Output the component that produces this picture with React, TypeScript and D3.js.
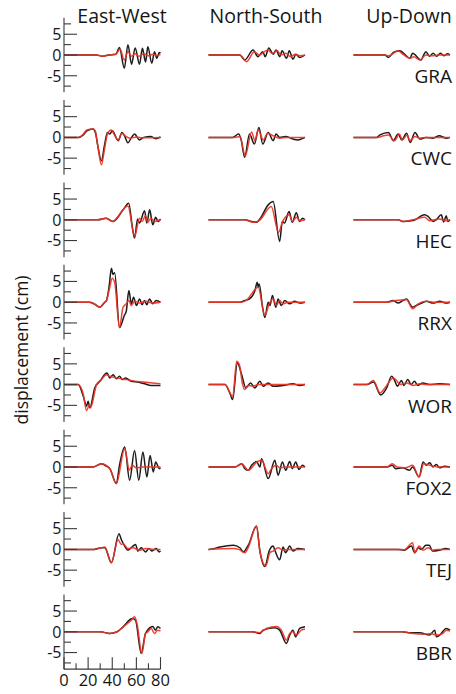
import React from "react";
import * as d3 from "d3";

type Pt = [number, number];

const stations = ["GRA", "CWC", "HEC", "RRX", "WOR", "FOX2", "TEJ", "BBR"];
const components = ["East-West", "North-South", "Up-Down"];
const yTickValues = [-7.5, -5, -2.5, 0, 2.5, 5, 7.5];
const yTickLabels = ["-5", "0", "5"];
const xTickValues = [0, 10, 20, 30, 40, 50, 60, 70, 80];
const xTickLabels = [0, 20, 40, 60, 80];

// observed (black) and synthetic (red) displacement, [time s, cm]
const graEWObs: Pt[] = [[0,0],[27,0],[32,-0.3],[37,0],[43,0.2],[46,1.8],[50,-3.2],[53,2.5],[56,-2.2],[59,1.7],[62.6,-2.2],[65,1.6],[67.6,-1.7],[69.5,2.0],[72.8,-2.0],[75,0.8],[77,-0.8],[79,0.6],[80,0.4]];
const graEWSyn: Pt[] = [[0,0],[27,0],[32,-0.3],[37,0],[43,0.2],[46.5,1.4],[50,-1.2],[53,0.8],[56,-0.3],[59,0.3],[62,-0.3],[66,0.3],[70,-0.2],[74,0.2],[77,-0.1],[80,0.1]];
const graNSObs: Pt[] = [[0,0],[26,0],[30,-1.2],[37,1.2],[41,-0.4],[45,0.8],[47,-0.4],[50,1.7],[53.6,0.2],[56,1.2],[59,-0.4],[61,1.0],[64.6,-0.8],[67,1.0],[70,-1.0],[72.5,0.2],[75.5,-0.6],[80,0]];
const graNSSyn: Pt[] = [[0,0],[26,0],[31.6,-1.6],[38,0.8],[42,0],[49,1.2],[53,0.4],[57,1.0],[60,0],[64,0.4],[68,-0.4],[72,0.2],[76,-0.2],[80,0]];
const graUDObs: Pt[] = [[0,0],[26,0],[29,-0.6],[33,0.6],[38.5,1.0],[42,0.3],[46.7,-0.8],[49,0.4],[56,-1.2],[58.5,0.2],[60,0.8],[63,-0.3],[66,0.4],[69,-0.3],[72,0.4],[75,-0.2],[78,0.3],[80,0]];
const graUDSyn: Pt[] = [[0,0],[26,0],[29,-0.2],[37,1.0],[40,0.4],[47,-0.8],[50,-0.4],[55,-1.2],[60,0],[65,-0.2],[70,0],[80,0]];

const cwcEWObs: Pt[] = [[0,0],[12,0],[16,0.6],[19,1.6],[24,2.0],[26,1.2],[28,-2],[31,-5.6],[33.5,-2],[36,1.2],[38,0.8],[40,1.6],[45,-0.8],[48,1.2],[50,0.5],[53,-1.3],[56,0],[58.5,0.8],[62.5,-0.6],[66,0],[72,0.2],[76,-0.3],[80,0.1]];
const cwcEWSyn: Pt[] = [[0,0],[12,0],[16,0.8],[19,1.8],[24,2.0],[26,1.5],[28,-2],[31,-6.6],[33.5,-3],[36,0.8],[39,1.8],[42,0.5],[45,-0.6],[48,1.0],[51,0.3],[55,-0.2],[60,0.1],[65,-0.1],[80,0]];
const cwcNSObs: Pt[] = [[0,0],[20,0],[25,0.8],[27,-0.5],[30,-4.8],[34,0.8],[38,-1.6],[41.8,2.4],[45,-1.6],[49.5,1.2],[53.6,-0.8],[56,0.8],[59,0],[64,0.2],[70,-0.4],[74,-0.6],[80,0]];
const cwcNSSyn: Pt[] = [[0,0],[22,0],[26,0.2],[30.5,-4.4],[35.7,1.3],[38.5,-0.8],[41.2,1.8],[45.5,-0.6],[49,1.0],[53.6,0.4],[59,-0.2],[65,0],[80,0]];
const cwcUDObs: Pt[] = [[0,0],[19,0],[22,0.6],[29,1.2],[33,-0.8],[37,0.8],[40,-0.6],[44,1.0],[47,-1.2],[51,1.2],[55,-0.4],[60,0],[66,-0.2],[71,0.4],[77,-0.2],[80,0]];
const cwcUDSyn: Pt[] = [[0,0],[20,0],[25,0.4],[29,0.6],[34,-0.8],[38,0.8],[40.5,-0.6],[44.5,0.6],[46.5,-0.8],[51,0.2],[55,-0.2],[60,0],[80,0]];

const hecEWObs: Pt[] = [[0,0],[28,0],[35,0.4],[40.7,-0.4],[49,2.4],[53.6,4.0],[57,-2.4],[58.5,-4.4],[61,0.2],[62.6,-0.8],[66.8,2.2],[68.7,-0.8],[71,2.4],[73.6,-1.2],[76,0.6],[78,-0.4],[80,0.2]];
const hecEWSyn: Pt[] = [[0,0],[28,0],[35,0.4],[40,-0.4],[53,3.3],[58.5,-4.0],[62.6,0.4],[64.8,-0.4],[67.5,1.0],[69.5,-0.6],[72,0.4],[75,-0.4],[80,0]];
const hecNSObs: Pt[] = [[0,0],[30,0],[35.7,-0.4],[39.8,-0.6],[42.6,0.2],[49.5,3.6],[53.6,4.4],[59,-5.2],[61.2,-0.4],[63,-0.8],[66.8,2.0],[69.5,-0.6],[72.8,1.7],[75.5,-0.4],[78,0.4],[80,0]];
const hecNSSyn: Pt[] = [[0,0],[30,0],[37,-0.6],[42,-0.2],[52,3.2],[58,-3.0],[61.5,-0.4],[67,1.2],[69.5,-0.4],[73,0.6],[75.5,-0.2],[80,0]];
const hecUDObs: Pt[] = [[0,0],[37,0],[41,-0.4],[49,-0.2],[59,1.2],[61.8,0.8],[66,-0.4],[68.5,0],[72.8,1.2],[74.7,-0.5],[76.9,1.0],[78.2,-0.4],[80,0]];
const hecUDSyn: Pt[] = [[0,0],[37,0],[41,-0.4],[49,0],[59,0.6],[63,-0.2],[71,0.2],[76.9,-0.2],[80,0]];

const rrxEWObs: Pt[] = [[0,0],[21,0],[25,-0.4],[29.7,-1.2],[33.8,0],[35.2,0.4],[37.5,4],[39.3,8.2],[40.6,6.7],[42,7.1],[46,-6.1],[50,-3.2],[51.6,-2.2],[53.8,2.8],[55.8,-0.4],[57.7,1.2],[60,-0.8],[62.6,0.8],[64.8,-0.6],[66.7,0.4],[68.7,-0.6],[70.9,0.8],[73.6,-0.4],[76.4,0.4],[80,0]];
const rrxEWSyn: Pt[] = [[0,0],[21,0],[25,-0.4],[29.7,-1.2],[33.8,0],[35.2,0.4],[37.5,3],[40,5.8],[42,4.8],[46,-6.1],[49,-1.2],[51.6,-0.4],[53.8,0.4],[55.8,-0.8],[58.5,0.2],[62.6,-0.2],[68,0.2],[73.6,-0.2],[80,0]];
const rrxNSObs: Pt[] = [[0,0],[26,0],[30,0.4],[34,0.8],[38.5,2.8],[40.4,4.8],[41.2,3.6],[42,4.4],[44.8,-1.2],[46.7,-3.7],[49.5,0],[50.9,-0.8],[53,1.6],[55.8,-1.2],[57.7,0.8],[60.4,-0.8],[63.2,0.4],[67.3,-0.4],[71.4,0.2],[75.5,-0.2],[80,0]];
const rrxNSSyn: Pt[] = [[0,0],[26,0],[31,0.4],[41.2,3.6],[46.7,-3.2],[50.3,-0.4],[53.6,0.8],[56.3,-0.8],[59,0.4],[61.8,-0.4],[66,0],[80,0]];
const rrxUDObs: Pt[] = [[0,0],[27,0],[33,0.4],[37,-0.2],[44,0.8],[45.3,0.4],[46.7,-0.4],[49,-1.2],[52,-0.8],[55,-0.4],[60.5,0.2],[66,-0.2],[71.5,0.2],[77,-0.2],[80,0]];
const rrxUDSyn: Pt[] = [[0,0],[28,0],[35,0.4],[44,0.6],[49,-1.6],[53.6,-0.4],[60.5,0.2],[66,0],[80,0]];

const worEWObs: Pt[] = [[0,0],[11.8,0],[16,-2.8],[18.7,-5.2],[20,-4.0],[21.4,-5.6],[25.5,-0.8],[29.7,0.8],[35.7,2.8],[37.9,1.6],[40.7,2.4],[43.4,1.4],[46,2.0],[48.4,1.2],[51,1.6],[55.8,0.8],[61.3,0.6],[66.8,0.2],[72.3,-0.2],[80,-0.2]];
const worEWSyn: Pt[] = [[0,0],[11.8,0],[16,-2.4],[18.7,-6.3],[21,-4.8],[22,-5.6],[27,0],[31,1.2],[35,2.4],[38,2.0],[40.7,1.8],[51.6,1.2],[65.4,0.6],[80,0.2]];
const worNSObs: Pt[] = [[0,0],[13.7,0],[17.9,-2.2],[20,-3.6],[23.9,5.2],[27.5,2.4],[31,-0.8],[34.9,0.4],[38.4,-0.8],[42.6,0.8],[45.3,-0.4],[49.5,0.4],[53.6,-0.4],[61.8,-0.2],[70,0.2],[75.5,-0.2],[80,0]];
const worNSSyn: Pt[] = [[0,0],[13.7,0],[17.9,-2],[20,-3.0],[23.4,5.6],[25.6,4.8],[28.3,0],[30,-1.2],[32.7,-0.2],[36.8,-0.4],[41,0],[80,0]];
const worUDObs: Pt[] = [[0,0],[11,0],[16.5,0.6],[22.5,-2.5],[27.5,-0.8],[31.6,2.0],[34.4,0.8],[36.3,-0.4],[39.8,1.0],[41.8,-0.2],[45,1.2],[47.8,0],[50.5,0.8],[53.3,-0.2],[57.4,0.4],[62.8,0],[71,0.2],[80,0]];
const worUDSyn: Pt[] = [[0,0],[11,0],[16.5,1.0],[22,-2.0],[26,-0.8],[33,1.6],[35.7,1.0],[38.5,0],[44,0.4],[49.5,-0.2],[55,0.2],[60,0],[80,0]];

const fox2EWObs: Pt[] = [[0,0],[24,0],[31,0.8],[33.8,0.4],[38,-0.4],[43.4,-4.0],[46,0.4],[50.3,4.8],[54.4,-3.2],[58.5,4.0],[62,-3.2],[65.4,3.6],[68.7,-2.4],[71.4,2.8],[74,-1.2],[76,1.2],[79,-0.4],[80,-0.2]];
const fox2EWSyn: Pt[] = [[0,0],[24,0],[31,0.8],[38,-0.4],[43.4,-4.0],[50.3,4.4],[51.6,3.0],[54,-0.8],[56.6,0.4],[60,-0.2],[65,0],[80,0]];
const fox2NSObs: Pt[] = [[0,0],[22,0],[27.5,0.8],[30.2,-0.4],[33,-0.8],[35.7,0.4],[39.8,1.3],[42.6,0],[44,2.0],[49.5,-2.8],[55,1.6],[57.7,-2.0],[61.3,1.2],[64,-0.8],[67.3,1.3],[69.5,-0.4],[72.3,1.2],[75,-0.6],[78,0.4],[80,0]];
const fox2NSSyn: Pt[] = [[0,0],[22,0],[27.5,0.8],[33,-0.8],[40,1.2],[44,1.6],[49.5,-1.6],[52.2,-0.4],[56.3,0.4],[59,-0.2],[64,0],[80,0]];
const fox2UDObs: Pt[] = [[0,0],[28,0],[32,0.4],[35,-0.4],[41,-0.2],[46.4,-0.8],[49,0],[54.4,-2.4],[57.7,1.2],[60.4,0.4],[63.2,1.0],[65.9,0],[68.7,0.6],[71.4,-0.2],[75.5,0.2],[80,0]];
const fox2UDSyn: Pt[] = [[0,0],[28,0],[32,0.8],[36.3,0],[43,-0.2],[49,0.4],[54.4,-2.4],[58.2,0.8],[63.2,0.4],[70,0],[80,0]];

const tejEWObs: Pt[] = [[0,0],[25,0],[31,0.4],[33.8,0.4],[39.3,-3.2],[45.6,3.8],[47.5,2.4],[50.3,0.8],[53,-0.2],[59.3,1.2],[61.3,-0.4],[64,0.4],[67.6,-0.6],[70.3,0.2],[73,-0.4],[76.4,0.2],[79,-0.6],[80,-0.4]];
const tejEWSyn: Pt[] = [[0,0],[25,0],[31,0.4],[33.8,0.6],[39.3,-3.2],[44.8,2.4],[47.5,1.2],[48.9,1.4],[53,0.2],[57,0.4],[62.6,-0.2],[68,0.2],[75,0],[80,0]];
const tejNSObs: Pt[] = [[0,0],[3,0.1],[9.6,0.6],[20.6,1.0],[26,0.4],[28.8,-0.6],[33,1],[39.8,5.6],[42.6,-0.4],[46.7,-4.1],[50.3,-0.4],[53.6,0.8],[55,-0.2],[59,-2.5],[61.8,0.6],[63.9,-0.8],[67.3,0.8],[70,-0.4],[74,0.2],[80,0]];
const tejNSSyn: Pt[] = [[0,0],[20.6,0.2],[25,0],[30.2,-0.8],[33,0.5],[39.8,5.7],[42.6,-0.4],[47.5,-4.0],[50.9,-0.8],[53.6,-0.4],[57.7,0.4],[61.8,-0.2],[66,0],[80,0]];
const tejUDObs: Pt[] = [[0,0],[37,0],[42,-0.2],[48,0.8],[50.8,-0.8],[53.6,0.4],[56.3,0],[60,1.0],[62.8,1.0],[65.5,-0.4],[71,-0.2],[76.4,0.2],[80,0]];
const tejUDSyn: Pt[] = [[0,0],[37,0],[42,-0.1],[49,1.6],[50.8,-0.8],[54.4,0.8],[57.7,-0.2],[61.8,0.4],[65.5,-0.2],[70,0],[80,0]];

const bbrEWObs: Pt[] = [[0,0],[30,0],[38,-0.4],[44,0],[49,1.2],[56.6,3.2],[59.3,2.8],[64,-5.2],[67.6,-0.4],[73.6,1.3],[75.8,0.4],[77.7,1.2],[80,0.8]];
const bbrEWSyn: Pt[] = [[0,0],[30,0],[38,-0.4],[44,0],[49,1.2],[55.8,2.8],[58.5,3.6],[60.5,2],[64.6,-5.2],[67.6,-0.4],[69.5,0],[72.3,0.8],[75,-0.4],[77.7,0.4],[80,0.2]];
const bbrNSObs: Pt[] = [[0,0],[36,0],[42.6,-0.4],[45.3,0.4],[55,1.0],[59,0.4],[64.6,-2.8],[67.3,-0.8],[70,0.4],[72.3,-1.2],[75.5,0.8],[80,1.2]];
const bbrNSSyn: Pt[] = [[0,0],[36,0],[42.6,-0.2],[48,0.8],[56.3,1.3],[60.4,0.4],[64.6,-2.0],[67.3,-0.4],[70,0],[72.8,-0.8],[76.9,0.4],[80,0.6]];
const bbrUDObs: Pt[] = [[0,0],[40,0],[46,-0.2],[55,-0.2],[63,-0.8],[67.3,0.4],[68.7,-1.2],[71.4,-0.8],[76.9,0.8],[80,0.4]];
const bbrUDSyn: Pt[] = [[0,0],[40,0],[49,-0.4],[57.4,-0.6],[64,-0.4],[68.7,-0.8],[74,-0.4],[77.2,0.4],[80,0.2]];

const observed: Pt[][][] = [
  [graEWObs, graNSObs, graUDObs],
  [cwcEWObs, cwcNSObs, cwcUDObs],
  [hecEWObs, hecNSObs, hecUDObs],
  [rrxEWObs, rrxNSObs, rrxUDObs],
  [worEWObs, worNSObs, worUDObs],
  [fox2EWObs, fox2NSObs, fox2UDObs],
  [tejEWObs, tejNSObs, tejUDObs],
  [bbrEWObs, bbrNSObs, bbrUDObs],
];
const synthetic: Pt[][][] = [
  [graEWSyn, graNSSyn, graUDSyn],
  [cwcEWSyn, cwcNSSyn, cwcUDSyn],
  [hecEWSyn, hecNSSyn, hecUDSyn],
  [rrxEWSyn, rrxNSSyn, rrxUDSyn],
  [worEWSyn, worNSSyn, worUDSyn],
  [fox2EWSyn, fox2NSSyn, fox2UDSyn],
  [tejEWSyn, tejNSSyn, tejUDSyn],
  [bbrEWSyn, bbrNSSyn, bbrUDSyn],
];

const W = 456;
const H = 694;
const FONT = "'Open Sans', 'Noto Sans', sans-serif";
const colLeft = [64, 208.5, 353.5];
const colWidth = 96.5;
const rowZero0 = 55;
const rowStep = 82.4;
const halfH = 37.35;
const axisColor = "#3a3a3a";
const textColor = "#151515";

export default function App() {
  const nRows = stations.length;
  const yScales = stations.map((_, i) => {
    const z = rowZero0 + i * rowStep;
    return d3.scaleLinear().domain([-9, 9]).range([z + halfH, z - halfH]);
  });
  const xScales = colLeft.map((l) => d3.scaleLinear().domain([0, 80]).range([l, l + colWidth]));
  const lastY = yScales[nRows - 1];
  const xAxisY = lastY(-9);
  const x0 = xScales[0];

  return (
    <svg width={W} height={H} style={{ position: "absolute", left: 0, top: 0, background: "#fff" }}>
      {components.map((c, j) => {
        const cx = j === 0 ? 122 : j === 1 ? 266 : 409;
        return (
          <text key={c} x={cx} y={23} textAnchor="middle" fontFamily={FONT} fontSize={19.5} fill={textColor}>
            {c}
          </text>
        );
      })}
      <text transform={`translate(28,350) rotate(-90)`} textAnchor="middle" fontFamily={FONT} fontSize={17.5} fill={textColor}>
        displacement (cm)
      </text>

      {stations.map((s, i) => {
        const y = yScales[i];
        const z = y(0);
        return (
          <g key={s}>
            {[0, 1, 2].map((j) => {
              const line = d3
                .line<Pt>()
                .x((d) => xScales[j](d[0]))
                .y((d) => y(d[1]))
                .curve(d3.curveMonotoneX);
              return (
                <g key={j}>
                  <path d={line(observed[i][j]) || ""} fill="none" stroke="#1c1c1c" strokeWidth={1.5} strokeLinejoin="round" />
                  <path d={line(synthetic[i][j]) || ""} fill="none" stroke="#ee3324" strokeWidth={1.5} strokeLinejoin="round" strokeOpacity={0.92} />
                </g>
              );
            })}
            <line x1={colLeft[0]} x2={colLeft[0]} y1={y(9)} y2={y(-9)} stroke={axisColor} strokeWidth={1.1} />
            {yTickValues.map((v) => {
              const major = v % 5 === 0;
              return (
                <line key={v} x1={colLeft[0]} x2={colLeft[0] + (major ? 13 : 7)} y1={y(v)} y2={y(v)} stroke={axisColor} strokeWidth={1.1} />
              );
            })}
            {yTickLabels.map((t) => (
              <text key={t} x={61.5} y={y(+t)} dy="0.36em" textAnchor="end" fontFamily={FONT} fontSize={16} fill={textColor}>
                {t}
              </text>
            ))}
            <text x={452} y={z + 28} textAnchor="end" fontFamily={FONT} fontSize={19} fill={textColor}>
              {s}
            </text>
          </g>
        );
      })}

      <line x1={x0(0)} x2={x0(80)} y1={xAxisY} y2={xAxisY} stroke={axisColor} strokeWidth={1.1} />
      {xTickValues.map((t) => (
        <line key={t} x1={x0(t)} x2={x0(t)} y1={xAxisY} y2={xAxisY - (t % 20 === 0 ? 12 : 6)} stroke={axisColor} strokeWidth={1.1} />
      ))}
      {xTickLabels.map((t) => (
        <text key={t} x={x0(t)} y={686} textAnchor="middle" fontFamily={FONT} fontSize={16.5} fill={textColor}>
          {t}
        </text>
      ))}
    </svg>
  );
}
